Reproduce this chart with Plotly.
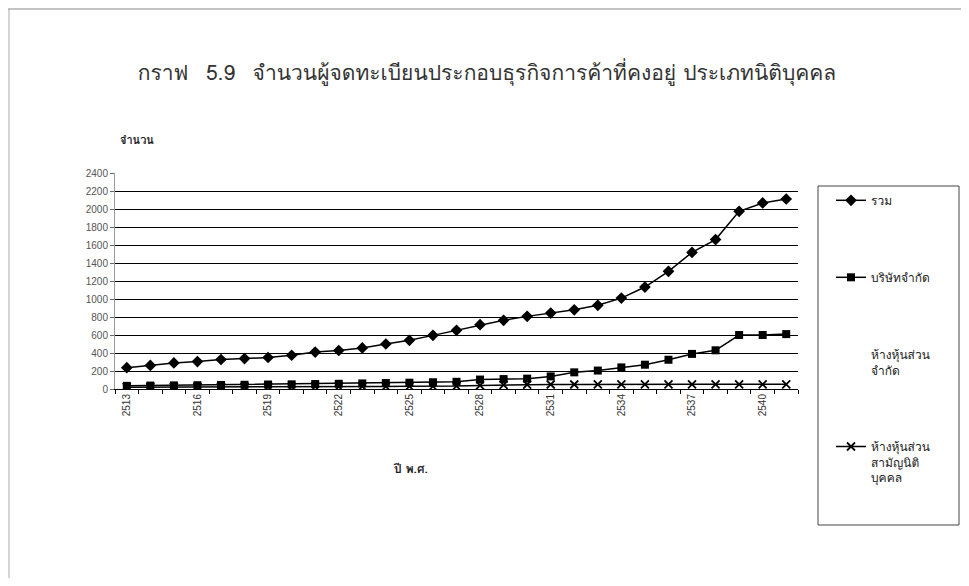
import plotly.graph_objects as go

years = list(range(2513, 2542))
total = [237, 262, 290, 305, 328, 338, 350, 375, 410, 428, 456, 500, 541, 596,
         652, 715, 763, 807, 844, 880, 930, 1010, 1133, 1307, 1518, 1660, 1974,
         2067, 2111]
company = [35, 38, 40, 42, 45, 47, 50, 52, 55, 58, 62, 66, 70, 75, 80, 105,
           110, 115, 140, 185, 205, 240, 270, 325, 390, 430, 600, 600, 610]
ordinary = [20, 20, 22, 22, 24, 24, 25, 25, 26, 26, 28, 28, 30, 30, 32, 40,
            45, 48, 50, 50, 52, 52, 52, 52, 52, 52, 52, 52, 52]
tick_years = list(range(2513, 2542, 3))

names = ["รวม", "บริษัทจำกัด", "ห้างหุ้นส่วน<br>จำกัด",
         "ห้างหุ้นส่วน<br>สามัญนิติ<br>บุคคล"]

THAI = "Garuda, Loma, Norasi, Noto Sans Thai, sans-serif"

fig = go.Figure()
fig.add_trace(go.Scatter(x=years, y=total, name=names[0], mode="lines+markers",
                         line=dict(color="black", width=1.5),
                         marker=dict(symbol="diamond", size=9, color="black"),
                         legendgroup="a"))
fig.add_trace(go.Scatter(x=years, y=company, name=names[1], mode="lines+markers",
                         line=dict(color="black", width=1.5),
                         marker=dict(symbol="square", size=8, color="black"),
                         legendgroup="b"))
fig.add_trace(go.Scatter(x=[years[0]], y=[None], name=names[2], mode="lines",
                         line=dict(color="rgba(0,0,0,0)", width=1.5),
                         legendgroup="c"))
fig.add_trace(go.Scatter(x=years, y=ordinary, name=names[3], mode="lines+markers",
                         line=dict(color="black", width=1.5),
                         marker=dict(symbol="x-thin", size=8, color="black",
                                     line=dict(color="black", width=1.8)),
                         legendgroup="d"))

# page body margin offset (screen = figure + OFF); keep figure inside window
OFF = 8
W, H = 969 - 2 * OFF, 586 - 2 * OFF
# plot area in screen coordinates
SX0, SX1, SY0, SY1 = 115, 798, 173, 389
L, R, T, B = SX0 - OFF, W - (SX1 - OFF), SY0 - OFF, H - (SY1 - OFF)
pw, ph = W - L - R, H - T - B

def px(sx):
    return (sx - OFF - L) / pw

def py(sy):
    return (H - B - (sy - OFF)) / ph

fig.update_layout(
    width=W, height=H,
    margin=dict(l=L, r=R, t=T, b=B),
    paper_bgcolor="white", plot_bgcolor="white",
    title=dict(text="กราฟ\u00a0\u00a0\u00a05.9\u00a0\u00a0\u00a0จำนวนผู้จดทะเบียนประกอบธุรกิจการค้าที่คงอยู่ ประเภทนิติบุคคล",
               x=(487 - OFF) / W, xanchor="center", xref="container",
               y=1 - (73 - OFF) / H, yanchor="middle", yref="container",
               font=dict(family=THAI, size=21, color="#333")),
    showlegend=True,
    legend=dict(x=px(831), y=py(186), xanchor="left", yanchor="top",
                borderwidth=0, bgcolor="rgba(0,0,0,0)",
                font=dict(family=THAI, size=12, color="#222"),
                tracegroupgap=58, valign="top", traceorder="grouped",
                itemwidth=30, maxheight=600),
    font=dict(family=THAI),
)
fig.update_xaxes(range=[2512.5, 2541.5], tickmode="array", tickvals=tick_years,
                 ticktext=[str(y) for y in tick_years], tickangle=-90,
                 tickfont=dict(family="Arial, Liberation Sans", size=10, color="#333"),
                 showgrid=False, showline=True, linecolor="black", linewidth=1,
                 ticks="", zeroline=False,
                 minor=dict(tickmode="linear", tick0=2512.5, dtick=1,
                            ticks="outside", ticklen=4, tickcolor="black",
                            showgrid=False))
fig.update_yaxes(range=[0, 2400], dtick=200, tick0=0,
                 tickfont=dict(family="Arial, Liberation Sans", size=10, color="#555"),
                 showgrid=True, gridcolor="black", gridwidth=1,
                 showline=True, linecolor="#999", linewidth=1,
                 ticks="outside", ticklen=4, tickcolor="#666", zeroline=False)

fig.add_annotation(text="<b>จำนวน</b>", x=px(118), y=py(140), xref="paper", yref="paper",
                   xanchor="left", yanchor="middle", showarrow=False,
                   font=dict(family=THAI, size=11, color="#222"))
fig.add_annotation(text="<b>ปี พ.ศ.</b>", x=px(410), y=py(468), xref="paper", yref="paper",
                   xanchor="center", yanchor="middle", showarrow=False,
                   font=dict(family=THAI, size=12, color="#222"))

# legend frame
fig.add_shape(type="rect", xref="paper", yref="paper", x0=px(818), x1=px(959),
              y0=py(186), y1=py(525), line=dict(color="#444", width=1),
              fillcolor="rgba(0,0,0,0)", layer="below")
# page frame
fig.add_shape(type="line", xref="paper", yref="paper", x0=px(OFF), x1=px(969 - OFF),
              y0=py(OFF + 1), y1=py(OFF + 1), line=dict(color="#888", width=1))
fig.add_shape(type="line", xref="paper", yref="paper", x0=px(OFF + 1), x1=px(OFF + 1),
              y0=py(OFF + 1), y1=py(586 - OFF), line=dict(color="#aaa", width=1))

fig.write_html("out.html")
